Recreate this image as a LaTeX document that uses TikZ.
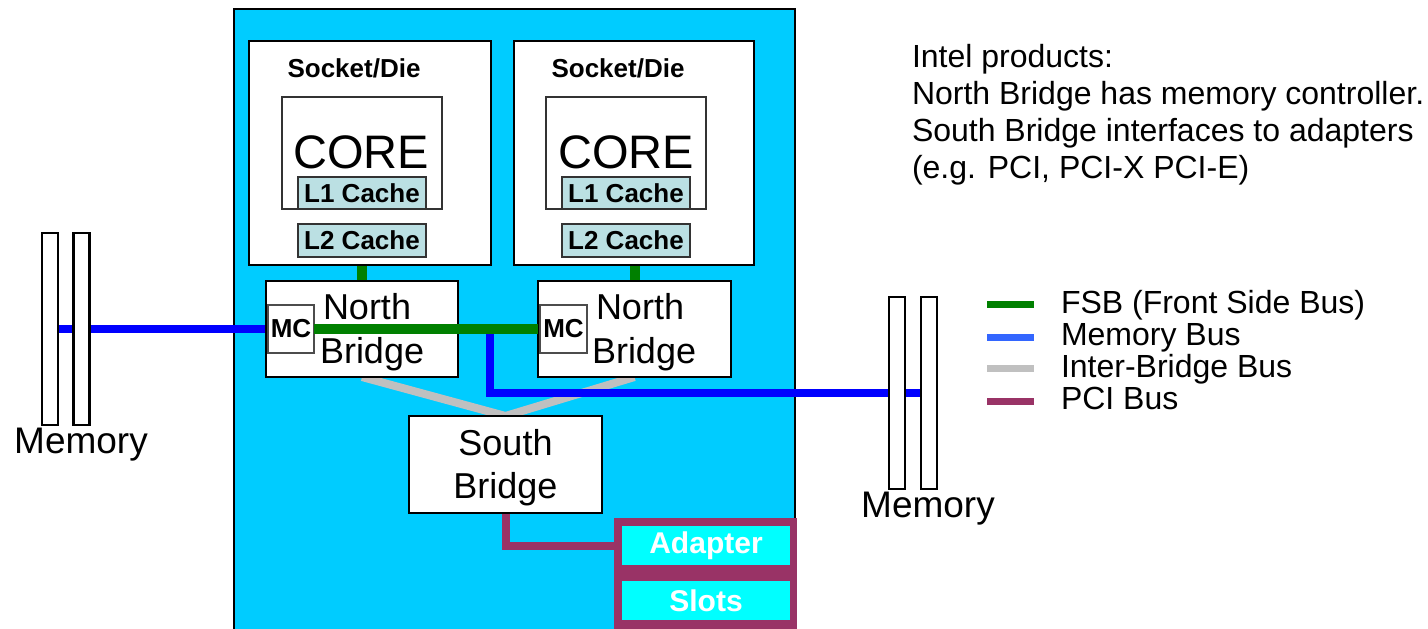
\documentclass[tikz,border=0pt]{standalone}
\usepackage{fontspec}
\setmainfont{Liberation Sans}
\usetikzlibrary{calc}
\definecolor{boardblue}{HTML}{00CCFF}
\definecolor{cachefill}{HTML}{BBE0E3}
\definecolor{fsbgreen}{HTML}{008000}
\definecolor{membus}{HTML}{0000FF}
\definecolor{legblue}{HTML}{3366FF}
\definecolor{ibgray}{HTML}{C0C0C0}
\definecolor{pcipurple}{HTML}{993366}
\definecolor{slotcyan}{HTML}{00FFFF}
\pgfdeclarelayer{back}
\pgfdeclarelayer{buses}
\pgfsetlayers{back,buses,main}
\begin{document}
\begin{tikzpicture}[x=1pt,y=-1pt,
  every node/.style={inner sep=0pt,outer sep=0pt},
  wbox/.style={rectangle,draw=black,fill=white,line width=2.5pt},
  thinbox/.style={rectangle,draw=black!80,fill=white,line width=1.8pt},
  cachebox/.style={rectangle,draw=black!80,fill=cachefill,line width=1.8pt,
    minimum width=128,minimum height=32,font=\fontsize{26}{30}\selectfont\bfseries},
  mcbox/.style={rectangle,draw=black!70,fill=white,line width=1.5pt,
    minimum height=48,font=\fontsize{26}{30}\selectfont\bfseries},
  stick/.style={rectangle,draw=black,fill=white,line width=2.5pt,minimum width=16,minimum height=192},
  slot/.style={rectangle,fill=slotcyan,minimum width=168,minimum height=39,text=white,
    font=\fontsize{30}{34}\selectfont\bfseries},
  bold26/.style={font=\fontsize{26}{30}\selectfont\bfseries},
  nbtxt/.style={font=\fontsize{36}{40}\selectfont,anchor=base west},
  bigtxt/.style={font=\fontsize{37}{40}\selectfont,anchor=base},
  note/.style={font=\fontsize{32}{36}\selectfont,anchor=base west},
  fsb/.style={fsbgreen,line width=10pt},
  mbus/.style={membus,line width=7.5pt},
  ibus/.style={ibgray,line width=8pt},
  pci/.style={pcipurple,line width=8pt},
  l12/.style={black,line width=8pt},
  swatch/.style={line width=7pt}]
\useasboundingbox (0,0) rectangle (1428,629);
\clip (0,0) rectangle (1428,629);

% board
\begin{pgfonlayer}{back}
\node[rectangle,draw=black,fill=boardblue,line width=2pt,minimum width=561,minimum height=640,anchor=north west] (board) at (234,9) {};
\end{pgfonlayer}

% sockets
\node[wbox,minimum width=242,minimum height=224] (sock1) at (370,153) {};
\node[wbox,minimum width=240,minimum height=224] (sock2) at (634,153) {};
\node[bold26,anchor=base] (sd1) at (354,77) {Socket/Die};
\node[bold26,anchor=base] (sd2) at (618,77) {Socket/Die};

% cores
\node[thinbox,minimum width=160,minimum height=112] (core1) at (362,153) {};
\node[thinbox,minimum width=160,minimum height=112] (core2) at (626,153) {};
\node[font=\fontsize{47}{50}\selectfont,anchor=base] (ct1) at (361,168) {CORE};
\node[font=\fontsize{47}{50}\selectfont,anchor=base] (ct2) at (626,168) {CORE};

% caches
\node[cachebox] (l1a) at (362,193) {L1 Cache};
\node[cachebox,minimum height=33] (l2a) at (362,240.5) {L2 Cache};
\node[cachebox] (l1b) at (626,193) {L1 Cache};
\node[cachebox,minimum height=33] (l2b) at (626,240.5) {L2 Cache};

% north bridges
\node[wbox,minimum width=192,minimum height=96] (nb1) at (362,329) {};
\node[mcbox,minimum width=46] (mc1) at (291,329) {MC};
\node[nbtxt] (nb1a) at (323,319) {North};
\node[nbtxt] (nb1b) at (320,363) {Bridge};
\node[wbox,minimum width=193,minimum height=96] (nb2) at (634.5,329) {};
\node[mcbox,minimum width=47] (mc2) at (563.5,329) {MC};
\node[nbtxt] (nb2a) at (596,319) {North};
\node[nbtxt] (nb2b) at (592,363) {Bridge};

% south bridge
\node[thinbox,draw=black,minimum width=193,minimum height=97] (sb) at (505.5,464.5) {};
\node[font=\fontsize{36}{40}\selectfont,anchor=base] (sba) at (505.5,455) {South};
\node[font=\fontsize{36}{40}\selectfont,anchor=base] (sbb) at (505.5,498) {Bridge};

% adapter slots
\node[rectangle,fill=pcipurple,minimum width=183,minimum height=120,anchor=north west] (frame) at (614,518) {};
\node[slot] (ad) at (706,545.5) {Adapter};
\node[slot] (sl) at (706,600.5) {Slots};

% memory sticks
\node[stick] (lm1) at (50,329) {};
\node[stick] (lm2) at (81.5,329) {};
\node[stick] (rm1) at (897,393) {};
\node[stick] (rm2) at (929,393) {};
\node[bigtxt] (lmt) at (81,453) {Memory};
\node[bigtxt] (rmt) at (928,517) {Memory};

% buses under nodes
\coordinate (j) at (490,329);
\begin{pgfonlayer}{buses}
\draw[l12] (l1a.south) -- (l2a.north);
\draw[l12] (l1b.south) -- (l2b.north);
\draw[fsb] (nb1.north) -- (nb1.north |- sock1.south);
\draw[fsb] (nb2.north) -- (nb2.north |- sock2.south);
\draw[ibus] (nb1.south) -- (sb.north);
\draw[ibus] (nb2.south) -- (sb.north);
\draw[pci] (sb.south) |- (ad.west);
\draw[mbus] (lm1.east) -- (lm2.west);
\draw[mbus] (lm2.east) -- (mc1.west);
\draw[mbus] (j) |- (rm1.west);
\draw[mbus] (rm1.east) -- (rm2.west);
\end{pgfonlayer}
\draw[fsb] (mc1.east) -- (nb2.west);

% notes
\node[note] (n1) at (912,67) {Intel products:};
\node[note] (n2) at (912,104) {North Bridge has memory controller.};
\node[note] (n3) at (912,141) {South Bridge interfaces to adapters};
\node[note] (n4) at (912,178) {(e.g. PCI, PCI-X PCI-E)};

% legend
\coordinate (g1a) at (987,304); \coordinate (g1b) at (1034,304);
\coordinate (g2a) at (987,337); \coordinate (g2b) at (1034,337);
\coordinate (g3a) at (987,368); \coordinate (g3b) at (1034,368);
\coordinate (g4a) at (987,401); \coordinate (g4b) at (1034,401);
\draw[swatch,fsbgreen] (g1a) -- (g1b);
\draw[swatch,legblue] (g2a) -- (g2b);
\draw[swatch,ibgray] (g3a) -- (g3b);
\draw[swatch,pcipurple] (g4a) -- (g4b);
\node[note] (lg1) at (1061,313) {FSB (Front Side Bus)};
\node[note] (lg2) at (1061,345) {Memory Bus};
\node[note] (lg3) at (1061,377) {Inter-Bridge Bus};
\node[note] (lg4) at (1061,409) {PCI Bus};
\end{tikzpicture}
\end{document}
